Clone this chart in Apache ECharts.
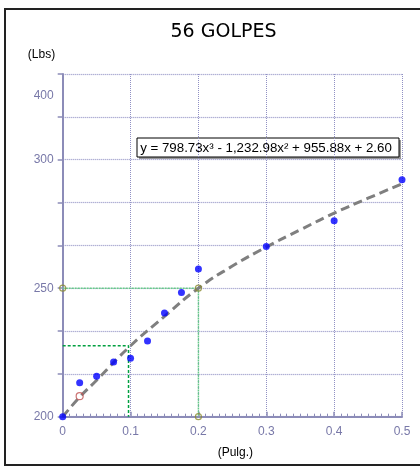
<!DOCTYPE html>
<html>
<head>
<meta charset="utf-8">
<script src="https://cdn.jsdelivr.net/npm/echarts@6/dist/echarts.min.js"></script>
<style>html,body{margin:0;padding:0;background:#fff}#c{width:420px;height:467px}</style>
</head>
<body>
<div id="c"></div>
<script>
// ---- data ----
const titleText = '56 GOLPES';
const yName = '(Lbs)';
const xName = '(Pulg.)';
const equation = 'y = 798.73x³ - 1,232.98x² + 955.88x + 2.60';
const xVals = [0, 0.025, 0.05, 0.075, 0.1, 0.125, 0.15, 0.175, 0.2, 0.3, 0.4, 0.5];
const yVals = [200, 213.2, 215.7, 221.3, 222.7, 229.5, 240.3, 248.3, 257.5, 266.2, 276.2, 292.2];
const trendX = [0, 0.025, 0.05, 0.1, 0.15, 0.2, 0.25, 0.3, 0.35, 0.4, 0.45, 0.5];
const trendY = [200, 207.6, 214.2, 227.6, 239, 250, 258.6, 266, 272.7, 279.2, 285, 290.6];
const guideAX = [0, 0.2, 0.2];      // light green guide (250 level)
const guideAY = [250, 250, 200];
const guideBX = [0, 0.097, 0.097];  // dark green guide
const guideBY = [227.6, 227.6, 200];
const markOliveX = [0, 0.2, 0.2];
const markOliveY = [250, 250, 200];
const markRedX = [0.025];
const markRedY = [208.0];
const xTicks = [0, 0.1, 0.2, 0.3, 0.4, 0.5];
const yTickLabels = {200: '200', 250: '250', 300: '300'};
const yExtraLabel = {value: 325, text: '400'};

const zip = (a, b) => a.map((v, i) => [v, b[i]]);
const axisColor = '#8c8cb8';
const labelColor = '#7878a8';
const gridColor = '#9090c4';
const font = '"Liberation Sans", Arial, sans-serif';

const chart = echarts.init(document.getElementById('c'), null, {renderer: 'canvas'});
chart.setOption({
  animation: false,
  backgroundColor: '#fff',
  grid: {left: 62.7, right: 18, top: 74, bottom: 50.3, containLabel: false},
  xAxis: {
    type: 'value', min: 0, max: 0.5, interval: 0.1,
    axisLine: {show: true, onZero: false, lineStyle: {color: axisColor, width: 2}},
    axisTick: {show: true, inside: true, length: 5, lineStyle: {color: axisColor, width: 1.5}},
    minorTick: {show: true, splitNumber: 10, length: 3, lineStyle: {color: axisColor, width: 1}},
    splitLine: {show: true, lineStyle: {color: gridColor, type: [1, 1], width: 1}},
    axisLabel: {color: labelColor, fontFamily: font, fontSize: 12, margin: 9,
      formatter: v => { const r = Math.round(v * 10) / 10; return xTicks.includes(r) ? (r === 0 ? '0' : r.toFixed(1)) : ''; }},
    name: xName, nameLocation: 'middle', nameGap: 30,
    nameTextStyle: {color: '#000', fontFamily: font, fontSize: 12, padding: [0, 0, 0, 6]}
  },
  yAxis: [{
    type: 'value', min: 200, max: 1000 / 3, interval: 50 / 3,
    axisLine: {show: true, onZero: false, lineStyle: {color: axisColor, width: 2}},
    axisTick: {show: true, length: 5, lineStyle: {color: axisColor, width: 1.5}},
    splitLine: {show: true, lineStyle: {color: gridColor, type: [1, 1], width: 1.2}},
    axisLabel: {color: labelColor, fontFamily: font, fontSize: 12, margin: 9,
      formatter: v => { const r = Math.round(v); return (Math.abs(v - r) < 0.01 && yTickLabels[r]) ? yTickLabels[r] : ''; }}
  }, {
    type: 'value', min: 200, max: 1000 / 3, interval: 25 / 3, position: 'left',
    axisLine: {show: false}, axisTick: {show: false}, splitLine: {show: false},
    axisLabel: {color: labelColor, fontFamily: font, fontSize: 12, margin: 9,
      formatter: v => Math.abs(v - yExtraLabel.value) < 0.01 ? yExtraLabel.text : ''}
  }],
  graphic: [
    {type: 'rect', shape: {x: 5, y: 9, width: 440, height: 456}, style: {fill: null, stroke: '#222', lineWidth: 2}, z: 100},
    {type: 'text', x: 223.5, y: 32, style: {text: titleText, font: '19px "DejaVu Sans", Verdana, sans-serif', fill: '#000', textAlign: 'center', textVerticalAlign: 'middle'}},
    {type: 'text', x: 41.5, y: 55, style: {text: yName, font: '12px ' + font, fill: '#000', textAlign: 'center', textVerticalAlign: 'middle'}},
    {type: 'group', z: 50, children: [
      {type: 'rect', shape: {x: 139, y: 140, width: 262, height: 19}, style: {fill: '#999'}},
      {type: 'rect', shape: {x: 137, y: 138, width: 262, height: 19}, style: {fill: '#fff', stroke: '#000', lineWidth: 1}},
      {type: 'text', x: 266, y: 148, style: {text: equation, font: '13.3px ' + font, fill: '#000', textAlign: 'center', textVerticalAlign: 'middle'}}
    ]}
  ],
  series: [
    {type: 'line', data: zip(guideAX, guideAY), symbol: 'none', z: 2,
      lineStyle: {color: '#66cc88', width: 1.5, type: [2, 1]}},
    {type: 'line', data: zip(guideBX, guideBY), symbol: 'none', z: 2,
      lineStyle: {color: '#00a040', width: 1.5, type: [3, 2]}},
    {type: 'line', data: zip(trendX, trendY), smooth: true, symbol: 'none', z: 3,
      lineStyle: {color: '#7f7f7f', width: 3, type: [9, 5]}},
    {type: 'scatter', data: zip(markOliveX, markOliveY), symbol: 'circle', symbolSize: 6, z: 4,
      itemStyle: {color: 'rgba(255,255,255,0)', borderColor: '#8a8a30', borderWidth: 1.2}},
    {type: 'scatter', data: zip(markRedX, markRedY), symbol: 'circle', symbolSize: 7, z: 4,
      itemStyle: {color: 'rgba(255,255,255,0)', borderColor: '#c05050', borderWidth: 1.2}},
    {type: 'scatter', data: zip(xVals, yVals), symbol: 'circle', symbolSize: 7, z: 5,
      itemStyle: {color: '#0000ff'}}
  ]
});
</script>
</body>
</html>
